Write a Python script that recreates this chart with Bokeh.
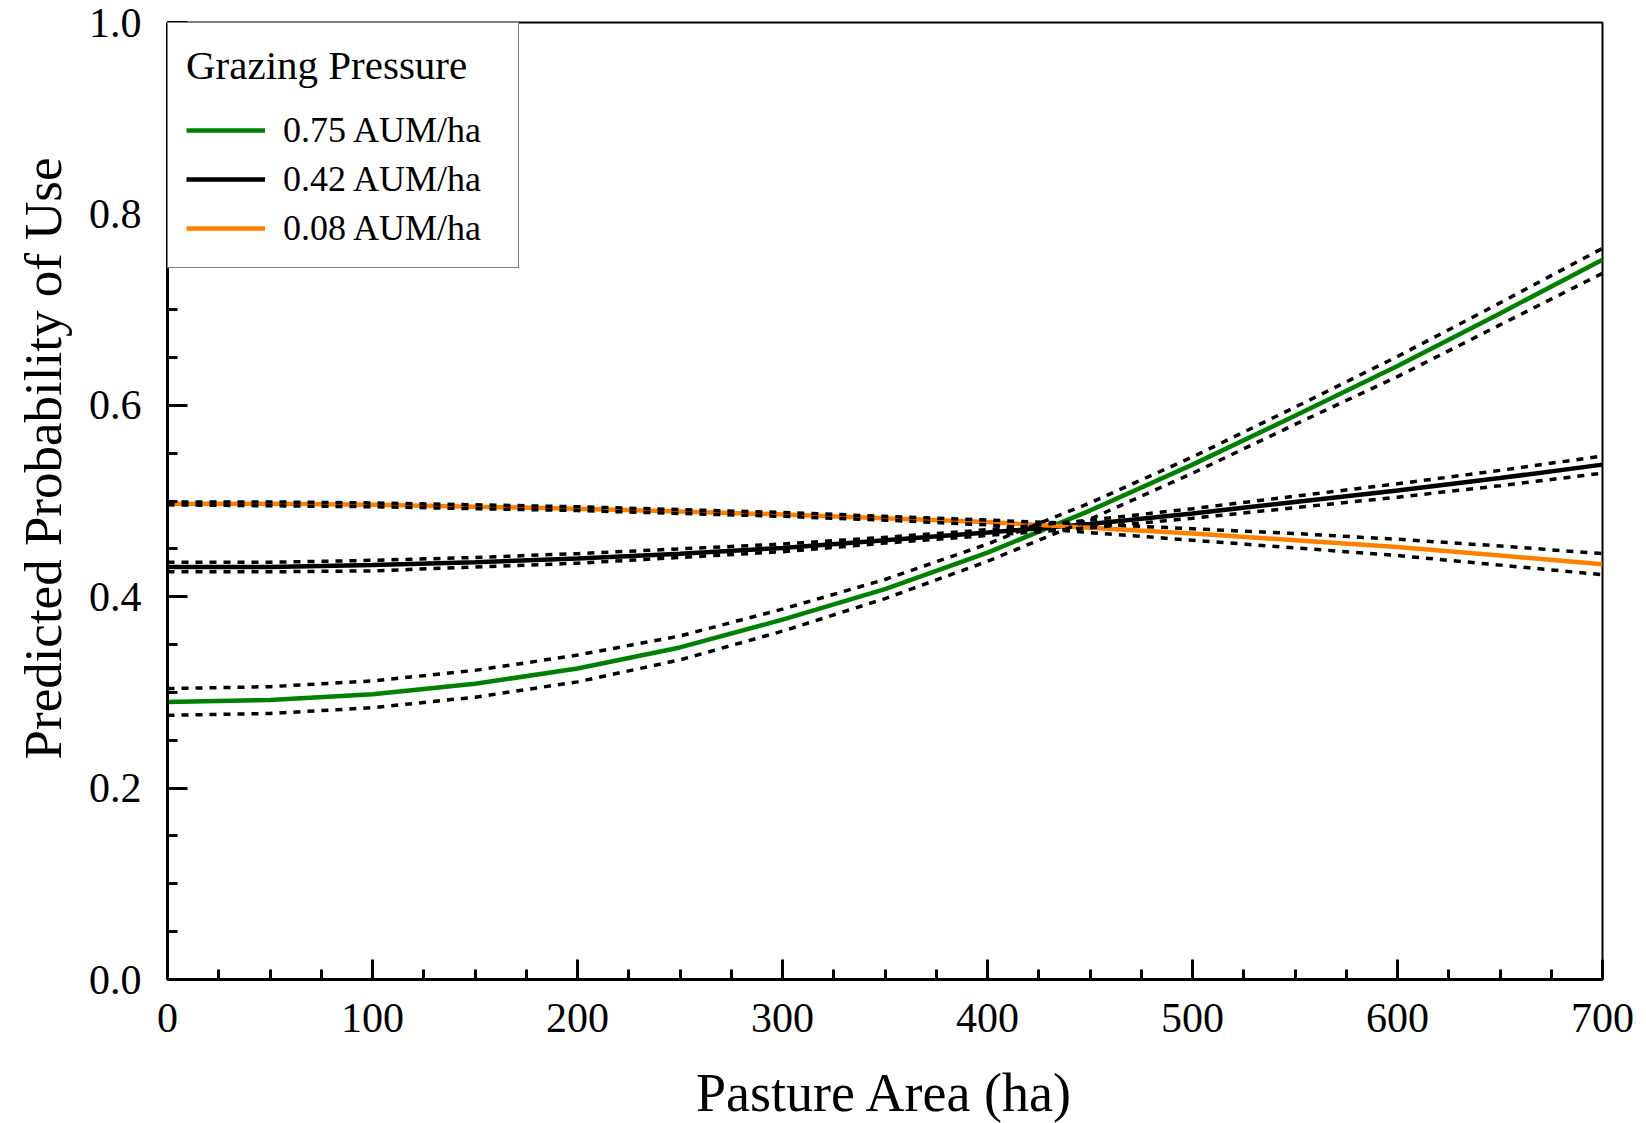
from bokeh.plotting import figure
from bokeh.models import SingleIntervalTicker, Legend, LegendItem, Range1d, NumeralTickFormatter, Title
from bokeh.embed import file_html
from bokeh.resources import INLINE

# Pasture area (ha)
area = [0, 50, 100, 150, 200, 250, 300, 350, 400, 450, 500, 550, 600, 650, 700]

# 0.75 AUM/ha
high = [0.290, 0.292, 0.298, 0.309, 0.325, 0.347, 0.376, 0.408, 0.446, 0.490, 0.538, 0.589, 0.641, 0.696, 0.752]
high_up = [0.304, 0.306, 0.312, 0.323, 0.339, 0.359, 0.387, 0.418, 0.455, 0.498, 0.546, 0.598, 0.651, 0.707, 0.764]
high_lo = [0.276, 0.278, 0.284, 0.295, 0.311, 0.334, 0.364, 0.398, 0.437, 0.481, 0.529, 0.580, 0.630, 0.684, 0.738]

# 0.42 AUM/ha
mid = [0.431, 0.431, 0.433, 0.436, 0.440, 0.445, 0.451, 0.459, 0.467, 0.476, 0.487, 0.499, 0.511, 0.524, 0.538]
mid_up = [0.436, 0.436, 0.438, 0.441, 0.445, 0.450, 0.455, 0.462, 0.470, 0.480, 0.492, 0.505, 0.518, 0.532, 0.547]
mid_lo = [0.426, 0.426, 0.427, 0.431, 0.435, 0.441, 0.447, 0.456, 0.464, 0.472, 0.482, 0.493, 0.504, 0.516, 0.529]

# 0.08 AUM/ha
low = [0.497, 0.497, 0.496, 0.494, 0.492, 0.489, 0.486, 0.482, 0.478, 0.472, 0.466, 0.459, 0.452, 0.443, 0.434]
low_up = [0.499, 0.499, 0.498, 0.496, 0.494, 0.491, 0.488, 0.484, 0.480, 0.476, 0.471, 0.466, 0.460, 0.453, 0.445]
low_lo = [0.496, 0.495, 0.494, 0.492, 0.490, 0.487, 0.484, 0.480, 0.475, 0.467, 0.459, 0.451, 0.443, 0.433, 0.423]

series_labels = ["0.75 AUM/ha", "0.42 AUM/ha", "0.08 AUM/ha"]
colors = ["#008000", "#000000", "#FF8000"]

FONT = "Liberation Serif"

p = figure(frame_width=1435, frame_height=957,
           min_border_left=167, min_border_top=22, min_border_right=36, min_border_bottom=140,
           x_range=Range1d(0, 700), y_range=Range1d(0, 1),
           output_backend="svg", toolbar_location=None)

p.background_fill_color = "white"
p.border_fill_color = "white"
p.outline_line_color = "black"
p.outline_line_width = 2
p.xgrid.visible = False
p.ygrid.visible = False

# axes
p.xaxis.ticker = SingleIntervalTicker(interval=100, num_minor_ticks=4)
p.yaxis.ticker = SingleIntervalTicker(interval=0.2, num_minor_ticks=4)
p.yaxis.formatter = NumeralTickFormatter(format="0.0")
for ax in (p.xaxis, p.yaxis):
    ax.axis_line_width = 3
    ax.axis_line_color = "black"
    ax.major_tick_in = 20
    ax.major_tick_out = 0
    ax.minor_tick_in = 10
    ax.minor_tick_out = 0
    ax.major_tick_line_width = 3
    ax.minor_tick_line_width = 3
    ax.major_tick_line_color = "black"
    ax.minor_tick_line_color = "black"
    ax.major_label_text_font = FONT
    ax.major_label_text_font_size = "42px"
    ax.major_label_text_color = "black"
    ax.axis_label_text_font = FONT
    ax.axis_label_text_font_size = "54px"
    ax.axis_label_text_font_style = "normal"
    ax.axis_label_text_color = "black"

p.xaxis.axis_label = "Pasture Area (ha)"
p.xaxis.major_label_standoff = 24
p.yaxis.major_label_standoff = 26
p.xaxis.axis_label_standoff = 28

# y-axis title, placed slightly above the frame centre as in the reference
ytitle = Title(text="Predicted Probability of Use", align="left", offset=220,
               standoff=23, text_font=FONT, text_font_size="53px",
               text_font_style="normal", text_color="black", vertical_align="top")
p.add_layout(ytitle, "left")

# solid lines
r_high = p.line(area, high, line_color=colors[0], line_width=4.5)
r_mid = p.line(area, mid, line_color=colors[1], line_width=4.5)
r_low = p.line(area, low, line_color=colors[2], line_width=4.5)

# confidence bounds
for ys in (high_up, high_lo, mid_up, mid_lo, low_up, low_lo):
    p.line(area, ys, line_color="black", line_width=3.5, line_dash="7 7")

legend = Legend(items=[LegendItem(label=series_labels[0], renderers=[r_high]),
                       LegendItem(label=series_labels[1], renderers=[r_mid]),
                       LegendItem(label=series_labels[2], renderers=[r_low])],
                location="top_left", title="Grazing Pressure")
legend.title_text_font = FONT
legend.title_text_font_size = "41px"
legend.title_text_font_style = "normal"
legend.title_text_color = "black"
legend.title_standoff = 20
legend.label_text_font = FONT
legend.label_text_font_size = "36px"
legend.label_text_color = "black"
legend.label_width = 217
legend.glyph_width = 79
legend.glyph_height = 30
legend.label_standoff = 18
legend.padding = 18
legend.margin = 0
legend.spacing = 7
legend.border_line_color = "black"
legend.border_line_width = 1.5
legend.background_fill_color = "white"
legend.background_fill_alpha = 1
p.add_layout(legend)

open("out.html", "w").write(file_html(p, INLINE))
